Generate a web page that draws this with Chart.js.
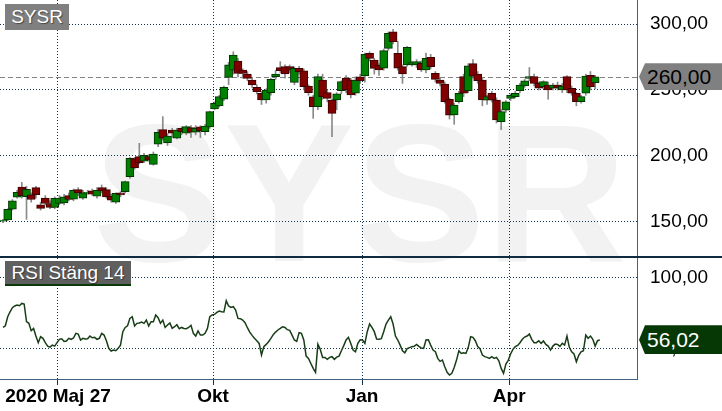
<!DOCTYPE html>
<html>
<head>
<meta charset="utf-8">
<script src="https://cdn.jsdelivr.net/npm/chart.js@4.4.1/dist/chart.umd.min.js"></script>
<style>
  body { margin: 0; background: #fff; }
  #wrap { position: relative; width: 722px; height: 411px; overflow: hidden; font-family: Arial, 'Liberation Sans', sans-serif; }
  #watermark { position: absolute; left: 93px; top: 96px; font-size: 196px; line-height: 196px; font-weight: bold; color: #f2f2f2; white-space: nowrap; }
  canvas { position: absolute; left: 0; }
  #priceCanvas { top: 0; }
  #rsiCanvas { top: 258px; }
  #sep { position: absolute; left: 0; top: 256px; width: 722px; height: 2px; background: #0f2b3f; }
  .tag { position: absolute; left: 5px; color: #fff; font-size: 19px; text-align: center; text-shadow: 1px 1px 1px rgba(0,0,0,0.45); }
  #symTag { top: 4px; width: 64px; height: 26px; line-height: 26px; background: #808080; }
  #rsiTag { top: 261px; width: 126px; height: 23px; line-height: 24px; background: #5f5f5f; border-bottom: 2px solid #0a3a0a; }
  .flag { position: absolute; left: 639px; width: 83px; font-size: 21px; padding-left: 8px; box-sizing: border-box;
          clip-path: polygon(6px 0, 100% 0, 100% 100%, 6px 100%, 0 50%); }
  #priceFlag { height: 27px; line-height: 27px; background: #808080; color: #000; }
  #rsiFlag { height: 29px; line-height: 29px; background: #063806; color: #fff; }
</style>
</head>
<body>
<div id="wrap">
  <div id="watermark">SYSR</div>
  <canvas id="priceCanvas" width="722" height="256"></canvas>
  <div id="sep"></div>
  <canvas id="rsiCanvas" width="722" height="153"></canvas>
  <div class="tag" id="symTag">SYSR</div>
  <div class="tag" id="rsiTag">RSI Stäng 14</div>
  <div class="flag" id="priceFlag"></div>
  <div class="flag" id="rsiFlag"></div>
</div>
<script>
// candles, one every other trading day
const opens  = [150.5,151.5,159.6,168.7,176.5,169.2,170.5,176,162.9,168,164,161.1,164,164.5,170,167.2,174.5,168,172,173.5,
                169.5,176,174.5,169.5,165,172,173,184.3,198,199.5,196,199.5,193.6,209,220,210,219.7,213.5,221,217.2,
                221.5,218,222,218.5,222,235.6,237.9,243,259.6,265,272,265,262.1,257.6,252,247.5,242.4,248,260.1,266.9,
                267.7,267.7,255.8,266.4,264.6,253,244.9,237.4,257.6,248,242.4,242.4,249.5,259,257.6,247.5,260,260.6,277.8,272.7,
                268.9,266.5,281.5,294,277.8,267.7,269,269,269,270.2,265.2,274.7,262.6,257.6,254.5,243,231.1,241.2,260.1,249.5,
                270,262,257.6,242.2,247.5,242.4,226,234.8,243.7,245,249.5,253,258.8,260.1,255,252.5,253.8,251.3,253.8,250,
                260.1,251.3,247.5,241.2,247.5,261.1,255.6];
const highs  = [152,160,167,174,180,177,172,177,165,170,166,169,170,171,172,175,176,174,174,175,
                176,178,176,171,172,173,181,199,199,209.6,202,201,203,220,229.8,217,221,221,222,223,
                223,223,223,224,234,241,246,253,271,279,274,266,264,259,254,249,251,259,265,271.5,
                269,269,267.5,268,266,254,246,262,262,250,243,248,257,261,259,260,262,278,279,274,
                270,281,294,296,287,269,283,272,273,272,278,277,264,259,256,244,240,249,262,270,
                273,264,259,246,249,244,235,242,247,249,255,258,267,262,256,257,256,255,256,255,
                261,253,248,246,262,264,261];
const lows   = [149.5,151,159,168,168,152,165,168,159,163,160,160,163,163,166,166,170,167,171,170,
                168,172,168,165,164,169,172,183,190,194,195,196,193,207,212,208,214,213,216,216,
                214,216,214,216,221,235,237,242,254,262,260,259,257,252,247,239,240,246,258,263,
                259,263,254,262,250,246,228.5,235,243,241,214.6,235,247,248,244,246,255,256,272,262,
                261,265,280,285,265,255,268,268,267,264,263,266,256,253,240,228,224,240,245,248,
                259,255,238,239,241,225,220,233,242,244,248,252,257,253,250,251,243,250,250,248,
                248,246,238,240,246,250,251];
const closes = [151.5,159.6,166,172.5,170,174.7,167,170.6,160.3,164,161,167.9,168,169,167,174,172,172,172.5,171,
                174,173.5,169,166.5,171.6,170.5,180.6,198.2,191,195,200.5,197,201.4,218,213.4,215,217.2,219.7,218.5,222.2,
                218,221,219,222.7,233.6,239.9,245,252,269,276.5,262.6,262.6,258.8,253.8,248.7,242.4,250,258.1,262.1,264.6,
                262.1,265,266.5,263.9,252.5,248,237.4,260.1,245,243.7,232.3,247,256.3,250,246.2,257.6,257,277,274,266.4,
                265.2,279.8,292.9,286.6,266.5,262.1,282.3,270.7,271.5,265.2,274,267.7,258,255,241.2,231,238.6,247.5,247.5,268.3,
                260.5,257,242.4,245,242.4,227.3,233.6,241,246.2,247.5,253.8,257,260.1,255,251.3,256.3,250,253.8,251.3,253,
                250,247.5,241.2,245,260.6,252.5,260];

// RSI (14) on close, one value per trading day
const rsiValues = [64.8,66.0,72.4,75.9,78.8,80.0,80.7,80.2,81.8,81.4,
                   68.9,67.7,62.5,64.1,58.7,54.0,58.2,57.1,54.0,51.6,
                   50.9,52.3,51.6,54.0,56.4,56.8,54.9,55.2,57.1,56.4,
                   57.3,60.6,60.1,55.9,57.1,56.6,56.8,58.7,57.5,57.8,
                   56.4,57.1,60.6,59.4,55.4,50.0,48.1,48.8,48.3,50.0,
                   52.3,61.8,64.8,66.0,71.2,72.4,65.8,67.7,67.9,68.6,
                   67.7,70.0,65.8,68.9,68.9,73.6,71.7,67.7,70.0,64.8,
                   66.5,67.9,64.1,65.3,66.7,63.9,64.8,64.1,63.9,64.8,
                   66.3,60.6,58.7,62.3,59.4,59.4,60.6,64.1,72.4,73.6,
                   74.0,75.5,76.4,75.9,75.7,83.7,80.0,79.0,79.5,77.1,
                   71.2,71.0,70.0,68.2,64.6,61.5,59.2,57.1,55.4,53.5,
                   45.3,51.2,52.8,54.7,57.1,59.7,61.5,63.0,64.1,65.3,
                   64.8,63.2,62.7,59.4,55.9,54.9,61.1,60.6,55.9,44.5,
                   42.9,39.3,35.8,33.0,53.0,49.3,43.6,43.6,42.2,43.6,
                   44.1,42.2,43.8,44.5,48.3,51.9,55.9,57.8,53.5,48.8,
                   47.6,53.5,56.1,55.9,53.5,61.8,67.2,64.8,61.8,56.6,
                   56.4,56.8,61.8,67.2,70.0,72.4,67.2,58.7,55.9,52.3,
                   48.3,46.9,49.8,50.5,51.2,51.4,52.8,51.4,50.2,50.0,
                   55.9,56.1,52.3,48.8,47.6,42.9,40.8,41.7,37.0,33.0,
                   31.1,32.3,36.5,41.7,48.3,46.4,46.9,46.4,50.7,58.2,
                   57.8,55.4,51.2,49.8,45.3,44.1,43.6,42.9,44.1,42.9,
                   43.6,41.2,35.8,32.3,38.9,41.5,46.0,49.3,51.2,52.1,
                   54.0,56.4,58.0,58.7,60.1,56.4,54.0,54.0,55.4,53.5,
                   55.2,52.8,51.6,48.8,51.6,53.0,52.8,51.4,53.5,52.3,
                   58.7,50.7,47.6,46.0,40.5,45.1,47.6,48.3,59.4,57.1,
                   58.7,56.4,51.6,55.4,56.02];

// axis labels (positions in candle-index units)
const dateTickPos = [11.7, 44.7, 76.4, 107.7];
const dateLabels = ['2020 Maj 27', 'Okt', 'Jan', 'Apr'];
const priceTicks = [150, 200, 250, 300];
const rsiTicks = [50, 100];

const X_MIN = -0.64, X_MAX = 134.9;
const GRID = '#13324d';
const EDGE = '#44627f';

Chart.defaults.font.family = "Arial, 'Liberation Sans', sans-serif";
Chart.defaults.font.size = 19;
Chart.defaults.color = '#000';

const fmt = v => v.toFixed(2).replace('.', ',');

// no extra room for labels, the panels fill the canvas
function noPad(s) {
    s.paddingTop = 0; s.paddingBottom = 0; s.paddingLeft = 0; s.paddingRight = 0;
}

function xAxis(showLabels) {
    return {
        type: 'linear', min: X_MIN, max: X_MAX, offset: false,
        afterBuildTicks: s => { s.ticks = dateTickPos.map(v => ({ value: v })); },
        afterFit: s => { s.height = showLabels ? 32 : 0; noPad(s); },
        grid: { color: GRID, offset: false, drawTicks: showLabels, tickLength: 6, tickColor: GRID, tickBorderDash: [] },
        border: { display: showLabels, color: EDGE, dash: [1, 2] },
        ticks: {
            display: showLabels, autoSkip: false, maxRotation: 0, padding: 0,
            font: { weight: 'bold', size: 19 },
            callback: (v, i) => dateLabels[i]
        }
    };
}

function yAxis(min, max, ticks) {
    return {
        position: 'right', min: min, max: max,
        afterBuildTicks: s => { s.ticks = ticks.map(v => ({ value: v })); },
        afterFit: s => { s.width = 85; noPad(s); },
        grid: { color: GRID, drawTicks: false },
        border: { display: true, color: EDGE, dash: [1, 2] },
        ticks: { padding: 13, callback: v => fmt(v) }
    };
}

// dashed line at last close
const lastLinePlugin = {
    id: 'lastLine',
    beforeDatasetsDraw(chart) {
        const { ctx, chartArea, scales } = chart;
        const y = Math.round(scales.y.getPixelForValue(closes[closes.length - 1])) + 0.5;
        ctx.save();
        ctx.strokeStyle = '#808080';
        ctx.lineWidth = 1;
        ctx.setLineDash([5, 3]);
        ctx.beginPath();
        ctx.moveTo(chartArea.left, y);
        ctx.lineTo(chartArea.right, y);
        ctx.stroke();
        ctx.restore();
    }
};

const up = i => closes[i] >= opens[i];

const priceChart = new Chart(document.getElementById('priceCanvas'), {
    type: 'bar',
    data: {
        datasets: [{
            label: 'body',
            order: 0,
            data: opens.map((o, i) => ({ x: i, y: [o, closes[i]] })),
            backgroundColor: c => up(c.dataIndex) ? '#008000' : '#800000',
            borderColor: c => up(c.dataIndex) ? '#003300' : '#3d0000',
            borderWidth: 1,
            borderSkipped: false,
            barThickness: 8,
            grouped: false
        }, {
            label: 'wick',
            order: 1,
            data: lows.map((l, i) => ({ x: i, y: [l, highs[i]] })),
            backgroundColor: '#8a8a8a',
            borderWidth: 0,
            barThickness: 1,
            grouped: false
        }]
    },
    options: {
        responsive: false,
        animation: false,
        devicePixelRatio: 1,
        layout: { padding: 0 },
        plugins: { legend: { display: false }, tooltip: { enabled: false } },
        scales: {
            x: xAxis(false),
            y: yAxis(124.2, 318.2, priceTicks)
        }
    },
    plugins: [lastLinePlugin]
});

const rsiChart = new Chart(document.getElementById('rsiCanvas'), {
    type: 'line',
    data: {
        datasets: [{
            label: 'RSI',
            data: rsiValues.map((v, k) => ({ x: k / 2, y: v })),
            borderColor: '#173d17',
            borderWidth: 1.5,
            pointRadius: 0,
            tension: 0
        }]
    },
    options: {
        responsive: false,
        animation: false,
        devicePixelRatio: 1,
        layout: { padding: 0 },
        plugins: { legend: { display: false }, tooltip: { enabled: false } },
        scales: {
            x: xAxis(true),
            y: yAxis(28.3, 113.95, rsiTicks)
        }
    }
});

// value flags at the right edge
const lastClose = closes[closes.length - 1];
const priceFlag = document.getElementById('priceFlag');
priceFlag.textContent = fmt(lastClose);
priceFlag.style.top = (priceChart.scales.y.getPixelForValue(lastClose) - 13.5) + 'px';

const lastRsi = rsiValues[rsiValues.length - 1];
const rsiFlag = document.getElementById('rsiFlag');
rsiFlag.textContent = fmt(lastRsi);
rsiFlag.style.top = (258 + rsiChart.scales.y.getPixelForValue(lastRsi) - 14.5) + 'px';
</script>
</body>
</html>
